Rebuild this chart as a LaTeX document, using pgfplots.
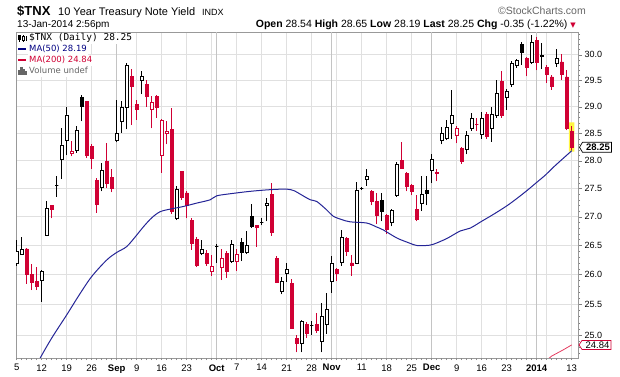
\documentclass[border=0pt]{standalone}
\usepackage{pgfplots}
\pgfplotsset{compat=1.18}
\usepackage{pgfplotstable}
\usepackage{fontspec}
\setmainfont{Liberation Sans}
\newfontfamily\dejavu{DejaVu Sans}
\newfontfamily\legmono{DejaVu Sans Mono}
\definecolor{cred}{RGB}{208,0,52}
\definecolor{mablue}{RGB}{36,36,150}
\definecolor{mared}{RGB}{228,60,96}
\definecolor{navytxt}{RGB}{0,0,130}
\definecolor{gridl}{RGB}{224,224,224}
\definecolor{gridd}{RGB}{196,196,196}

% d = trading-day index (0 = 5 Aug 2013), t: 0 hollow black, 1 filled red, 2 hollow red, 3 filled black
\pgfplotstableread{
d o h l c t
0 26.20 26.60 26.15 26.40 0
1 26.35 26.65 26.34 26.43 0
2 26.44 26.46 25.85 26.00 1
3 26.00 26.18 25.74 25.87 1
4 25.89 26.13 25.74 25.81 1
5 25.91 26.08 25.55 26.06 0
6 26.68 27.28 26.66 27.15 0
7 27.20 27.21 26.97 27.12 1
8 27.55 27.72 27.35 27.55 0
9 28.02 28.60 27.67 28.29 0
10 28.38 29.00 28.10 28.85 0
11 28.13 28.37 28.08 28.18 2
12 28.19 28.65 28.15 28.56 0
13 29.18 29.23 28.73 29.00 3
14 29.10 29.12 28.05 28.10 1
15 28.26 28.30 27.85 28.04 1
16 27.64 27.68 27.07 27.21 1
17 27.52 27.96 27.45 27.82 0
18 27.99 28.32 27.51 27.60 1
19 27.70 27.86 27.43 27.50 1
20 28.38 29.13 28.34 28.50 0
21 28.72 29.12 28.52 28.98 0
22 28.98 29.84 28.58 29.79 0
23 29.58 29.72 28.66 29.38 1
24 29.05 29.13 28.76 28.96 1
25 29.50 29.68 29.24 29.58 0
26 29.43 29.52 29.00 29.20 1
27 28.95 29.20 28.60 29.09 2
28 29.20 29.22 28.80 28.98 1
29 28.10 28.78 27.78 28.74 2
30 28.50 28.74 28.30 28.55 2
31 28.58 28.98 27.05 27.10 1
32 26.97 27.54 26.94 27.49 0
33 27.80 27.82 27.30 27.34 1
34 27.42 27.45 26.97 27.20 1
35 26.94 26.97 26.43 26.54 1
36 26.60 26.64 26.13 26.15 1
37 26.37 26.60 26.33 26.44 0
38 26.36 26.42 26.15 26.20 1
39 26.05 26.34 25.98 26.14 2
40 26.48 26.52 26.20 26.48 0
41 26.13 26.44 25.91 26.28 2
42 26.37 26.40 25.95 26.05 1
43 26.23 26.60 26.20 26.52 0
44 26.22 26.44 26.06 26.35 2
45 26.55 26.63 26.23 26.38 3
46 26.38 26.75 26.35 26.50 0
47 27.00 27.23 26.80 26.83 3
48 26.84 26.85 26.48 26.82 1
49 26.90 26.97 26.85 26.90 0
50 27.19 27.33 26.92 27.23 0
51 27.39 27.60 26.67 26.72 1
52 26.28 26.32 25.86 25.87 1
53 25.72 25.97 25.67 25.88 0
54 26.02 26.20 25.88 26.09 0
55 25.85 25.93 25.10 25.11 1
56 24.94 25.00 24.72 24.86 1
57 24.87 25.25 24.72 25.23 0
58 25.18 25.22 24.95 25.02 1
59 25.15 25.23 25.00 25.15 0
60 25.18 25.36 25.04 25.07 1
61 24.90 25.53 24.72 25.30 0
62 25.18 25.70 25.02 25.42 0
63 25.89 26.32 25.70 26.20 0
64 26.09 26.12 25.90 26.02 1
65 26.21 26.77 26.15 26.63 0
66 26.62 26.64 26.32 26.40 1
67 26.20 26.33 25.98 26.15 1
68 26.20 27.62 26.18 27.46 0
69 27.50 27.52 27.48 27.50 0
70 27.66 27.85 27.55 27.72 0
71 27.45 27.47 27.20 27.27 1
72 27.27 27.42 26.87 27.02 1
73 27.29 27.42 26.92 27.10 3
74 27.02 27.04 26.70 26.77 1
75 26.90 27.13 26.83 27.11 0
76 27.38 27.98 27.35 27.94 0
77 28.00 28.35 27.86 27.86 1
78 27.77 27.80 27.45 27.53 1
79 27.56 27.58 27.38 27.44 1
80 27.12 27.38 26.92 26.95 1
81 27.23 27.73 27.10 27.39 0
82 27.47 27.73 27.20 27.41 3
83 27.83 28.12 27.60 28.02 0
84 27.79 27.86 27.63 27.77 1
85 28.37 28.62 28.30 28.50 0
86 28.42 28.75 28.38 28.62 0
87 28.69 29.33 28.40 28.84 0
88 28.47 28.64 28.32 28.60 2
89 28.22 28.25 27.95 27.98 1
90 28.21 28.55 28.12 28.46 0
91 28.59 28.89 28.55 28.78 0
92 28.67 28.80 28.55 28.67 1
93 28.48 28.90 28.40 28.78 0
94 28.86 28.90 28.40 28.44 1
95 28.60 28.99 28.35 28.86 0
96 28.84 29.52 28.80 29.25 0
97 29.48 29.68 28.80 28.84 1
98 29.17 29.35 28.95 29.29 0
99 29.43 29.88 29.38 29.84 0
100 29.79 29.92 29.75 29.89 0
101 30.20 30.25 29.80 30.04 3
102 29.92 29.96 29.58 29.76 1
103 29.85 30.38 29.82 30.24 0
104 30.28 30.35 29.70 29.85 1
105 29.97 30.23 29.72 29.98 0
106 29.76 29.80 29.45 29.61 1
107 29.57 29.60 29.33 29.38 1
108 29.84 30.12 29.76 29.92 0
109 29.86 30.02 29.52 29.61 1
110 29.57 29.71 28.56 28.60 1
111 28.54 28.65 28.19 28.25 1
}\tnx

\pgfplotstableread{
d v
3 24.35
4.5 24.60
7 24.95
10 25.33
12.5 25.66
15 25.97
18 26.25
20 26.38
22 26.48
24 26.68
25.3 26.82
27 26.98
28.7 27.09
31 27.14
33.3 27.18
36 27.24
38.7 27.30
40 27.37
43 27.41
46.7 27.45
50.7 27.48
54 27.49
55.5 27.46
56.7 27.40
58.7 27.30
60 27.27
62 27.12
63.3 27.01
65 26.95
66.7 26.91
70 26.89
72 26.82
73.3 26.77
76 26.63
78 26.56
80 26.50
82 26.50
83.3 26.52
86 26.62
88.7 26.75
90.7 26.80
93 26.92
95.3 27.04
98 27.19
100 27.32
102 27.46
104 27.61
105.7 27.74
107.3 27.88
109 28.02
110.7 28.16
111 28.19
}\maA

\pgfplotstableread{
d v
105.5 24.56
107 24.66
109.3 24.76
111 24.84
}\maB

\pgfplotstablegetrowsof{\tnx}
\pgfmathtruncatemacro\nlast{\pgfplotsretval-1}

\pgfplotsset{
  wick0/.style={black, line width=0.9pt},
  wick1/.style={cred, line width=0.9pt},
  wick2/.style={cred, line width=0.9pt},
  wick3/.style={black, line width=0.9pt},
  body0/.style={draw=black, fill=white, line width=0.9pt},
  body1/.style={draw=cred, fill=cred, line width=0.9pt},
  body2/.style={draw=cred, fill=white, line width=0.9pt},
  body3/.style={draw=black, fill=black, line width=0.9pt},
}

\begin{document}
\begin{tikzpicture}[x=1pt,y=1pt]
\path[use as bounding box] (0pt,0pt) rectangle (620pt,376pt);
\begin{axis}[
  at={(16pt,18pt)}, anchor=south west, scale only axis,
  width=562pt, height=326pt,
  xmin=-0.14, xmax=112.26,
  ymode=log, ymin=24.63, ymax=30.45,
  axis line style={draw=black!40, line width=0.6pt},
  tick align=outside,
  xtick={0,5,10,15,20,24,29,34,40,44,49,54,59,63,69,74,79,83,88,93,98,104,111},
  xticklabels={5,12,19,26,\textbf{Sep},9,16,23,\textbf{Oct},7,14,21,28,\textbf{Nov},11,18,25,\textbf{Dec},9,16,23,\textbf{2014},13},
  xtick style={draw=none},
  xtick pos=left,
  minor xtick={0,5,10,15,24,29,34,39,44,49,54,59,64,69,74,79,88,93,98,102,106,111},
  xminorgrids, minor x grid style={gridl, line width=0.8pt},
  extra x ticks={20,40,63,83,104}, extra x tick labels={},
  extra x tick style={grid=major, major grid style={gridd, line width=1pt}},
  ytick={25,25.5,26,26.5,27,27.5,28,28.5,29,29.5,30},
  yticklabels={25.0,25.5,26.0,26.5,27.0,27.5,28.0,28.5,29.0,29.5,30.0},
  minor ytick={24.7,24.8,24.9,25.1,25.2,25.3,25.4,25.6,25.7,25.8,25.9,26.1,26.2,26.3,26.4,26.6,26.7,26.8,26.9,27.1,27.2,27.3,27.4,27.6,27.7,27.8,27.9,28.1,28.2,28.3,28.4,28.6,28.7,28.8,28.9,29.1,29.2,29.3,29.4,29.6,29.7,29.8,29.9,30.1,30.2,30.3,30.4},
  ytick pos=right, yticklabel pos=right,
  ytick style={draw=black!50, line width=0.5pt},
  major tick length=4pt, minor tick length=2pt,
  ymajorgrids, major y grid style={gridl, line width=0.8pt},
  xticklabel style={font=\fontsize{9.5}{10}\selectfont, yshift=1pt},
  yticklabel style={font=\fontsize{9}{10}\selectfont, xshift=-1pt},
  legend style={at={(rel axis cs:0,1)}, anchor=north west, xshift=1pt, yshift=-0.5pt,
    draw=none, fill=none, inner xsep=0pt, inner ysep=0pt, row sep=0pt, column sep=1pt,
    font=\dejavu\fontsize{8.5}{9}\selectfont,
    nodes={fill=white, inner xsep=1pt, inner ysep=1pt, text height=7pt, text depth=2pt}},
  legend cell align=left,
]
\addlegendimage{legend image code/.code={
  \draw[black,line width=0.6pt] (1pt,-3.5pt)--(1pt,3.5pt);
  \fill[black] (0pt,-1.5pt) rectangle (2.2pt,2.5pt);
  \draw[black,line width=0.6pt] (5pt,-3.5pt)--(5pt,3.5pt);
  \draw[black,fill=white,line width=0.6pt] (4pt,-2pt) rectangle (6pt,1.5pt);
  \draw[black,line width=0.6pt] (8pt,-3pt)--(8pt,2pt);}}
\addlegendentry{{\legmono\fontsize{9.5}{9.5}\selectfont \$TNX (Daily) 28.25}}
\addlegendimage{legend image code/.code={\draw[navytxt,line width=2pt] (0pt,0pt)--(8pt,0pt);}}
\addlegendentry{\textcolor{navytxt}{MA(50) 28.19}}
\addlegendimage{legend image code/.code={\draw[cred,line width=2pt] (0pt,0pt)--(8pt,0pt);}}
\addlegendentry{\textcolor{cred}{MA(200) 24.84}}
\addlegendimage{legend image code/.code={
  \fill[black!60] (0pt,-3.5pt) rectangle (1.6pt,0.5pt);
  \fill[black!60] (2.2pt,-3.5pt) rectangle (3.8pt,3.5pt);
  \fill[black!60] (4.4pt,-3.5pt) rectangle (6pt,1.5pt);
  \fill[black!60] (6.6pt,-3.5pt) rectangle (8.2pt,-0.5pt);}}
\addlegendentry{\textcolor{black!60}{Volume undef}}

% highlight of the last candle
\addplot[fill=yellow!75, draw=none, forget plot] coordinates {(110.45,28.17) (111.55,28.17) (111.55,28.71) (110.45,28.71) (110.45,28.17)};

\pgfplotsinvokeforeach{0,...,\nlast}{%
  \pgfplotstablegetelem{#1}{d}\of\tnx\edef\cd{\pgfplotsretval}%
  \pgfplotstablegetelem{#1}{o}\of\tnx\edef\co{\pgfplotsretval}%
  \pgfplotstablegetelem{#1}{h}\of\tnx\edef\ch{\pgfplotsretval}%
  \pgfplotstablegetelem{#1}{l}\of\tnx\edef\cl{\pgfplotsretval}%
  \pgfplotstablegetelem{#1}{c}\of\tnx\edef\cc{\pgfplotsretval}%
  \pgfplotstablegetelem{#1}{t}\of\tnx\edef\ct{\pgfplotsretval}%
  \pgfmathsetmacro\xl{\cd-0.33}%
  \pgfmathsetmacro\xr{\cd+0.33}%
  \edef\doplot{%
    \noexpand\addplot[wick\ct, forget plot] coordinates {(\cd,\cl) (\cd,\ch)};
    \noexpand\addplot[body\ct, forget plot] coordinates {(\xl,\co) (\xr,\co) (\xr,\cc) (\xl,\cc) (\xl,\co)};
  }%
  \doplot
}

\addplot[mablue, line width=1pt, smooth, forget plot] table[x=d, y=v] {\maA};
\addplot[mared, line width=0.8pt, forget plot] table[x=d, y=v] {\maB};

\coordinate (lastv) at (axis cs:112.26,28.25);
\coordinate (ma200v) at (axis cs:112.26,24.84);
\end{axis}

% daily tick marks along the time axis
\begin{axis}[
  at={(16pt,18pt)}, anchor=south west, scale only axis,
  width=562pt, height=326pt,
  xmin=-0.14, xmax=112.26, ymin=0, ymax=1,
  hide y axis, axis x line*=bottom,
  axis line style={draw=none},
  xtick={0,...,111}, xticklabels={},
  tick align=outside, major tick length=2pt,
  xtick style={draw=black!45, line width=0.5pt},
]
\end{axis}

% value flags on the price scale
\draw[black, fill=white, line width=0.7pt] (lastv) ++(1.5pt,0pt) -- ++(3pt,5pt) -- ++(29pt,0pt) -- ++(0pt,-10pt) -- ++(-29pt,0pt) -- cycle;
\node[anchor=center, inner sep=0] at ([xshift=20pt]lastv) {\fontsize{9.5}{9.5}\selectfont\bfseries 28.25};
\draw[cred, fill=white, line width=0.7pt] (ma200v) ++(1pt,0pt) -- ++(3pt,4.5pt) -- ++(29pt,0pt) -- ++(0pt,-9pt) -- ++(-29pt,0pt) -- cycle;
\node[anchor=center, inner sep=0] at ([xshift=19.5pt]ma200v) {\fontsize{9.5}{9.5}\selectfont 24.84};

% header
\node[anchor=base west, inner sep=0] at (17pt,361pt) {\fontsize{13}{13}\selectfont\bfseries \$TNX};
\node[anchor=base west, inner sep=0] at (58pt,361pt) {\fontsize{11}{11}\selectfont 10 Year Treasury Note Yield};
\node[anchor=base west, inner sep=0] at (202pt,361pt) {\fontsize{9}{9}\selectfont INDX};
\node[anchor=base east, inner sep=0, text=black!60] at (586pt,362pt) {\fontsize{10.5}{10.5}\selectfont ©StockCharts.com};
\node[anchor=base west, inner sep=0] at (17pt,349pt) {\fontsize{10}{10}\selectfont 13-Jan-2014 2:56pm};
\node[anchor=base east, inner sep=0] at (576pt,349pt) {\fontsize{10.5}{10.5}\selectfont \textbf{Open} 28.54 \textbf{High} 28.65 \textbf{Low} 28.19 \textbf{Last} 28.25 \textbf{Chg} -0.35 (-1.22\%) {\dejavu\color{cred}\fontsize{7}{7}\selectfont ▼}};
\end{tikzpicture}
\end{document}
